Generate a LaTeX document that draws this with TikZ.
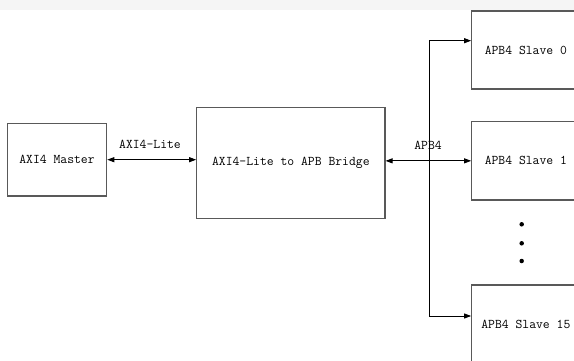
\documentclass[tikz,border=0pt]{standalone}
\usetikzlibrary{arrows.meta,calc}
\begin{document}
\begin{tikzpicture}[x=1pt,y=-1pt,
  blockbox/.style={draw=black!65,line width=1.1pt,minimum width=#1,inner sep=0pt,font=\ttfamily\fontsize{13.3}{15}\selectfont},
  conn/.style={draw=black,line width=0.9pt},
  arr/.style={conn,-{Triangle[length=7pt,width=5pt]}},
  biarr/.style={conn,{Triangle[length=7pt,width=5pt]}-{Triangle[length=7pt,width=5pt]}},
  lbl/.style={font=\ttfamily\fontsize{13.3}{15}\selectfont,inner sep=0pt},
  dotmark/.style={fill=black,circle,inner sep=0pt,minimum size=4.5pt}]
\useasboundingbox (0,0) rectangle (574,361);
\fill[black!4!white] (0,0) rectangle (574,10);
\node[blockbox=99.4pt,minimum height=72.7pt] (master) at (57,159.7) {AXI4 Master};
\node[blockbox=188.3pt,minimum height=111pt] (bridge) at (290.85,162.8) {AXI4-Lite to APB Bridge};
\node[blockbox=108.3pt,minimum height=78pt] (s0) at (525.85,50) {APB4 Slave 0};
\node[blockbox=108.3pt,minimum height=78.3pt] (s1) at (525.85,160.85) {APB4 Slave 1};
\node[blockbox=108.3pt,minimum height=78pt] (s15) at (525.85,324) {APB4 Slave 15};
\coordinate (btop) at (429.3,40.7);
\coordinate (bbot) at (429.3,316);
\draw[biarr] (master.east) -- (master.east -| bridge.west);
\draw[biarr] (bridge.east |- s1.west) -- (s1.west);
\draw[conn] (btop) -- (bbot);
\draw[arr] (btop) -- (btop -| s0.west);
\draw[arr] (bbot) -- (bbot -| s15.west);
\node[lbl] (axil) at (150,144) {AXI4-Lite};
\node[lbl] (apb) at (428,145) {APB4};
\node[dotmark] (d1) at (521.7,224.3) {};
\node[dotmark] (d2) at (521.7,243.3) {};
\node[dotmark] (d3) at (521.7,261) {};
\end{tikzpicture}
\end{document}
